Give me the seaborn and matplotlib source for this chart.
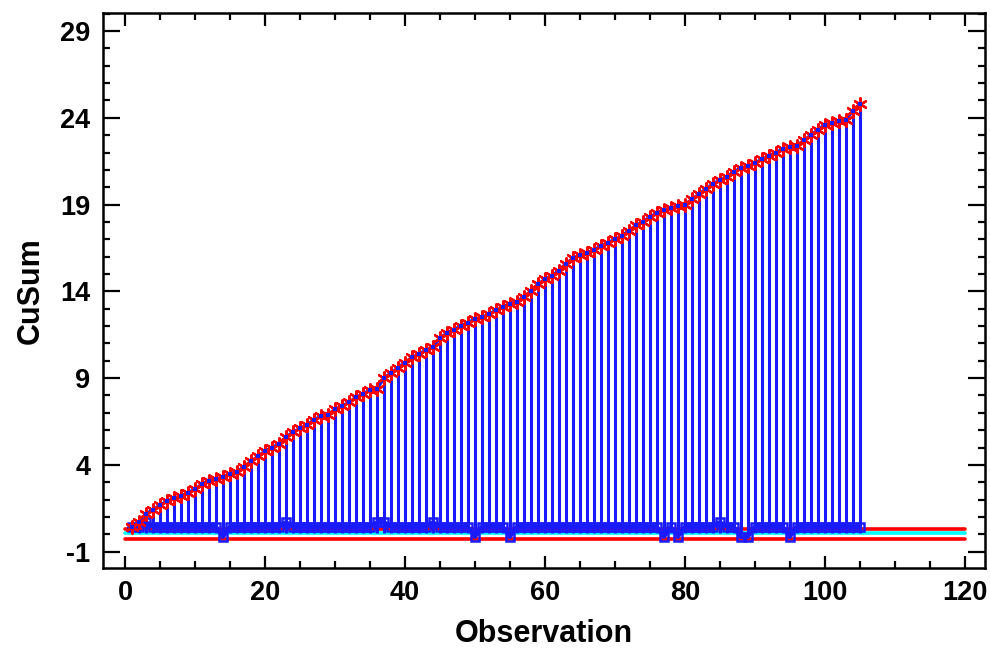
import numpy as np
import pandas as pd
import matplotlib
matplotlib.use("Agg")
import matplotlib.pyplot as plt
import seaborn as sns
from matplotlib.ticker import MultipleLocator

# ---- data ----
observation = list(range(1, 106))
upper_cusum = [
    0.4, 0.7, 1.2, 1.4, 1.7, 1.9, 2.1, 2.2, 2.4, 2.6,
    2.9, 3.1, 3.2, 3.3, 3.5, 3.6, 3.9, 4.2, 4.5, 4.8,
    5.0, 5.2, 5.6, 5.9, 6.1, 6.3, 6.6, 6.8, 6.9, 7.2,
    7.4, 7.6, 7.9, 8.1, 8.3, 8.4, 9.0, 9.3, 9.6, 9.9,
    10.2, 10.4, 10.6, 10.8, 11.3, 11.6, 11.8, 12.0, 12.2, 12.4,
    12.5, 12.7, 12.9, 13.1, 13.3, 13.4, 13.7, 14.0, 14.4, 14.7,
    14.9, 15.2, 15.6, 15.9, 16.1, 16.2, 16.4, 16.6, 16.8, 17.0,
    17.2, 17.5, 17.8, 18.0, 18.3, 18.5, 18.7, 18.8, 18.9, 19.0,
    19.3, 19.6, 19.9, 20.2, 20.4, 20.6, 20.9, 21.1, 21.2, 21.4,
    21.6, 21.8, 22.0, 22.2, 22.3, 22.4, 22.7, 23.0, 23.3, 23.6,
    23.7, 23.8, 23.9, 24.4, 24.8,
]
lower_cusum = [
    0.45, 0.45, 0.7, 0.45, 0.45, 0.45, 0.45, 0.45, 0.45, 0.45,
    0.45, 0.45, 0.45, -0.15, 0.45, 0.45, 0.45, 0.45, 0.45, 0.45,
    0.45, 0.45, 0.7, 0.45, 0.45, 0.45, 0.45, 0.45, 0.45, 0.45,
    0.45, 0.45, 0.45, 0.45, 0.45, 0.7, 0.7, 0.45, 0.45, 0.45,
    0.45, 0.45, 0.45, 0.7, 0.45, 0.45, 0.45, 0.45, 0.45, -0.15,
    0.45, 0.45, 0.45, 0.45, -0.15, 0.45, 0.45, 0.45, 0.45, 0.45,
    0.45, 0.45, 0.45, 0.45, 0.45, 0.45, 0.45, 0.45, 0.45, 0.45,
    0.45, 0.45, 0.45, 0.45, 0.45, 0.45, -0.15, 0.45, -0.15, 0.45,
    0.45, 0.45, 0.45, 0.45, 0.7, 0.45, 0.45, -0.15, -0.15, 0.45,
    0.45, 0.45, 0.45, 0.45, -0.15, 0.45, 0.45, 0.45, 0.45, 0.45,
    0.45, 0.45, 0.45, 0.45, 0.45,
]
stem_base = 0.05
limit_x = [0, 120]
upper_limit = 0.31
center_line = 0.08
lower_limit = -0.27

x_ticks = [0, 20, 40, 60, 80, 100, 120]
y_ticks = [-1, 4, 9, 14, 19, 24, 29]

df = pd.DataFrame({"Observation": observation, "Upper": upper_cusum, "Lower": lower_cusum})
lim_df = pd.DataFrame({"x": limit_x})

sns.set_style("white")
plt.rcParams["font.family"] = ["Liberation Sans", "DejaVu Sans"]
plt.rcParams["font.weight"] = "bold"
plt.rcParams["axes.unicode_minus"] = False
plt.rcParams["text.color"] = "black"
plt.rcParams["axes.labelcolor"] = "black"
plt.rcParams["xtick.color"] = "black"
plt.rcParams["ytick.color"] = "black"

fig = plt.figure(figsize=(9.9, 6.51), dpi=100)
ax = fig.add_axes([0.1037, 0.1275, 0.995 - 0.1037, 0.980 - 0.1275])

BLUE = "#1a1aff"
RED = "#ff0000"
CYAN = "#00ffff"

# horizontal reference lines
for val, col in [(upper_limit, RED), (center_line, CYAN), (lower_limit, RED)]:
    sns.lineplot(data=lim_df.assign(y=val), x="x", y="y", color=col, lw=2.6, ax=ax, zorder=1)

# stems
ax.vlines(df["Observation"], stem_base, df["Upper"], color=BLUE, lw=2.2, zorder=2)

# lower cusum
sns.lineplot(data=df, x="Observation", y="Lower", color=BLUE, lw=3.0, ax=ax, zorder=3,
             marker="s", markersize=6, markerfacecolor="none", markeredgecolor=BLUE,
             markeredgewidth=1.8)

# upper cusum
sns.lineplot(data=df, x="Observation", y="Upper", color=BLUE, lw=2.4, ax=ax, zorder=3)
sns.scatterplot(data=df, x="Observation", y="Upper", color=RED, marker=(6, 2, 0), s=80,
                linewidth=1.7, edgecolor=RED, ax=ax, zorder=4)
sns.scatterplot(data=df, x="Observation", y="Upper", color=BLUE, marker="s", s=8,
                linewidth=0, ax=ax, zorder=5)

ax.set_xlim(-3.2, 122.9)
ax.set_ylim(-1.94, 30.04)
ax.set_xticks(x_ticks)
ax.set_yticks(y_ticks)
ax.xaxis.set_minor_locator(MultipleLocator(5))
ax.yaxis.set_minor_locator(MultipleLocator(1))
ax.tick_params(which="both", direction="in", top=True, right=True, bottom=True, left=True,
               width=1.6, color="black")
ax.tick_params(axis="x", which="major", length=9, pad=9, labelsize=19.5, labelcolor="black")
ax.tick_params(axis="y", which="major", length=12, pad=9, labelsize=19.5, labelcolor="black")
ax.tick_params(which="minor", length=5)
for lab in ax.get_xticklabels() + ax.get_yticklabels():
    lab.set_fontweight("bold")
for sp in ax.spines.values():
    sp.set_linewidth(1.8)
    sp.set_color("black")

ax.set_xlabel("Observation", fontsize=22, fontweight="bold", labelpad=9, color="black")
ax.set_ylabel("CuSum", fontsize=22, fontweight="bold", labelpad=10, color="black")

fig.savefig("out.png", dpi=100)
